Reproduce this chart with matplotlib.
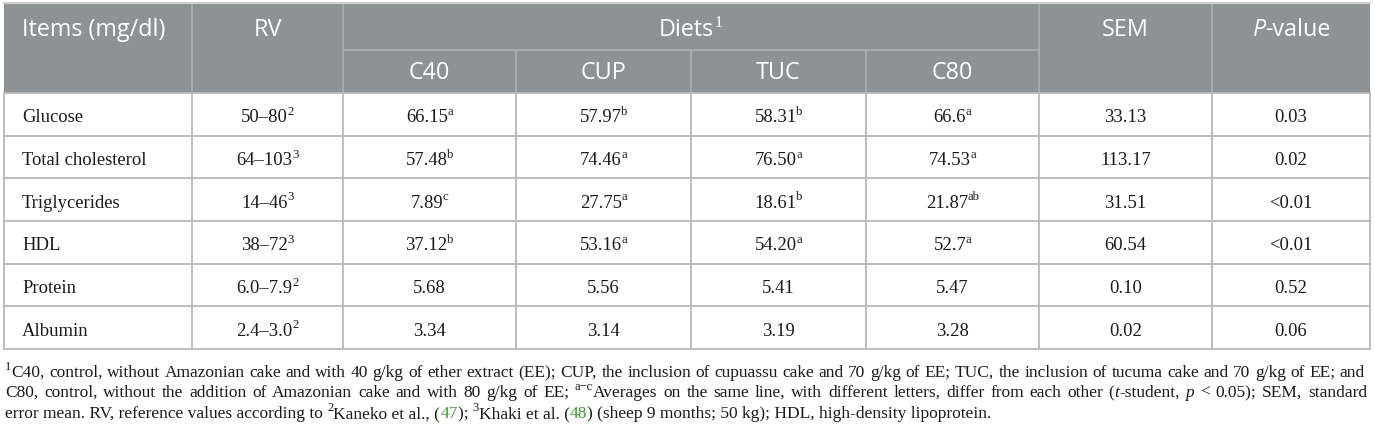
import matplotlib
matplotlib.use("Agg")
import matplotlib.pyplot as plt

# ---------------- data ----------------
items = ["Glucose", "Total cholesterol", "Triglycerides", "HDL", "Protein", "Albumin"]
rv = ["50–80", "64–103", "14–46", "38–72", "6.0–7.9", "2.4–3.0"]
rv_ref = ["2", "3", "3", "3", "2", "2"]
diets = ["C40", "CUP", "TUC", "C80"]
c40 = ["66.15", "57.48", "7.89", "37.12", "5.68", "3.34"]
c40_sig = ["a", "b", "c", "b", "", ""]
cup = ["57.97", "74.46", "27.75", "53.16", "5.56", "3.14"]
cup_sig = ["b", "a", "a", "a", "", ""]
tuc = ["58.31", "76.50", "18.61", "54.20", "5.41", "3.19"]
tuc_sig = ["b", "a", "b", "a", "", ""]
c80 = ["66.6", "74.53", "21.87", "52.7", "5.47", "3.28"]
c80_sig = ["a", "a", "ab", "a", "", ""]
sem = ["33.13", "113.17", "31.51", "60.54", "0.10", "0.02"]
pval = ["0.03", "0.02", "<0.01", "<0.01", "0.52", "0.06"]

# ---------------- layout ----------------
W, H = 1375, 435
fig = plt.figure(figsize=(W / 100, H / 100), dpi=100)
ax = fig.add_axes([0, 0, 1, 1])
ax.set_xlim(0, W)
ax.set_ylim(H, 0)
ax.axis("off")
renderer = fig.canvas.get_renderer()

col_x = [4, 192, 343, 516, 691, 866, 1039, 1212, 1370]
y_top, y_mid, y_head = 4, 51, 94
y_bot = 350
n = len(items)
row_h = (y_bot - y_head) / n

HEAD_BG = "#8e9294"
HEAD_LINE = "#aeb1b3"
GRID = "#b9b9b9"
SERIF = "Liberation Serif"
SANS = "Open Sans"

# header background
ax.add_patch(plt.Rectangle((col_x[0], y_top), col_x[-1] - col_x[0], y_head - y_top,
                           facecolor=HEAD_BG, edgecolor="none", zorder=1))
ax.plot([col_x[0], col_x[-1]], [y_top, y_top], color="#cfd0cb", lw=1.6, zorder=3)
for x in col_x[1:-1]:
    if x in (col_x[3], col_x[4], col_x[5]):
        ax.plot([x, x], [y_mid, y_head], color=HEAD_LINE, lw=1.2, zorder=2)
    else:
        ax.plot([x, x], [y_top, y_head], color=HEAD_LINE, lw=1.2, zorder=2)
ax.plot([col_x[2], col_x[6]], [y_mid, y_mid], color=HEAD_LINE, lw=1.2, zorder=2)

# body grid
for i in range(n + 1):
    y = y_head + i * row_h
    ax.plot([col_x[0], col_x[-1]], [y, y], color=GRID, lw=1.3, zorder=2)
for x in col_x:
    ax.plot([x, x], [y_head, y_bot], color=GRID, lw=1.3, zorder=2)


def measure(s, **kw):
    t1 = ax.text(0, 0, "x" + s + "x", **kw)
    t2 = ax.text(0, 0, "xx", **kw)
    w = t1.get_window_extent(renderer).width - t2.get_window_extent(renderer).width
    t1.remove()
    t2.remove()
    return w


def runs(x, y, parts, ha="left", justify=None):
    """parts: list of (text, style). justify: target width (stretch spaces)."""
    toks = []
    for s, st in parts:
        if justify is None:
            toks.append((s, st, False))
        else:
            pieces = s.split(" ")
            for k, p in enumerate(pieces):
                if p:
                    toks.append((p, st, False))
                if k < len(pieces) - 1:
                    toks.append((" ", st, True))
    widths = []
    for s, st, _ in toks:
        kw = dict(fontsize=st.get("size"), family=st.get("family"),
                  style=st.get("style", "normal"))
        widths.append(measure(s, **kw) + st.get("dx", 0))
    total = sum(widths)
    if justify is not None:
        nsp = sum(1 for t in toks if t[2])
        extra = (justify - total) / max(nsp, 1)
        widths = [w + (extra if t[2] else 0) for w, t in zip(widths, toks)]
        total = justify
    if ha == "center":
        x = x - total / 2
    for (s, st, sp), w in zip(toks, widths):
        if not sp:
            ax.text(x + st.get("dx", 0), y - st.get("rise", 0), s, fontsize=st.get("size"),
                    family=st.get("family"), style=st.get("style", "normal"),
                    color=st.get("color", "#1a1a1a"), ha="left", va="baseline", zorder=5)
        x += w


BODY = 13.4
HEAD = 16.8
body = dict(size=BODY, family=SERIF)
sup = dict(size=9.2, family=SERIF, rise=7.3, dx=-0.5)
head = dict(size=HEAD, family=SANS, color="white")
head_sup = dict(size=11.5, family=SERIF, color="white", rise=9, dx=0.5)

# header texts
hb1 = 36
hb2 = 79
runs(22, hb1, [("Items (mg/dl)", head)])
runs((col_x[1] + col_x[2]) / 2, hb1, [("RV", head)], ha="center")
runs((col_x[2] + col_x[6]) / 2, hb1, [("Diets", head), ("1", head_sup)], ha="center")
for j, d in enumerate(diets):
    runs((col_x[2 + j] + col_x[3 + j]) / 2, hb2, [(d, head)], ha="center")
runs((col_x[6] + col_x[7]) / 2, hb1, [("SEM", head)], ha="center")
runs((col_x[7] + col_x[8]) / 2, hb1,
     [("P", dict(head, style="italic")), ("-value", head)], ha="center")

# body texts
vals = [(c40, c40_sig), (cup, cup_sig), (tuc, tuc_sig), (c80, c80_sig)]
for i in range(n):
    yb = y_head + i * row_h + row_h / 2 + 7
    runs(22, yb, [(items[i], body)])
    runs((col_x[1] + col_x[2]) / 2, yb, [(rv[i], body), (rv_ref[i], sup)], ha="center")
    for j, (v, s) in enumerate(vals):
        parts = [(v[i], body)]
        if s[i]:
            parts.append((s[i], sup))
        runs((col_x[2 + j] + col_x[3 + j]) / 2, yb, parts, ha="center")
    runs((col_x[6] + col_x[7]) / 2, yb, [(sem[i], body)], ha="center")
    runs((col_x[7] + col_x[8]) / 2, yb, [(pval[i], body)], ha="center")

# footnote
FN = 12.5
fn = dict(size=FN, family=SERIF)
fsup = dict(size=9.0, family=SERIF, rise=6.5)
fit = dict(fn, style="italic")
green = dict(fn, color="#3ca12f")
line1 = [("1", fsup), ("C40, control, without Amazonian cake and with 40 g/kg of ether extract (EE); CUP, "
                       "the inclusion of cupuassu cake and 70 g/kg of EE; TUC, the inclusion of tucuma cake "
                       "and 70 g/kg of EE; and", fn)]
line2 = [("C80, control, without the addition of Amazonian cake and with 80 g/kg of EE; ", fn),
         ("a−c", fsup),
         ("Averages on the same line, with different letters, differ from each other (", fn),
         ("t", fit), ("-student, ", fn), ("p", fit), (" < 0.05); SEM, standard", fn)]
line3 = [("error mean. RV, reference values according to ", fn), ("2", fsup),
         ("Kaneko et al., (", fn), ("47", green), ("); ", fn), ("3", fsup),
         ("Khaki et al. (", fn), ("48", green),
         (") (sheep 9 months; 50 kg); HDL, high-density lipoprotein.", fn)]
runs(5, 377, line1, justify=1360)
runs(5, 397, line2, justify=1362)
runs(5, 418, line3)

fig.savefig("out.png", dpi=100, facecolor="white")
